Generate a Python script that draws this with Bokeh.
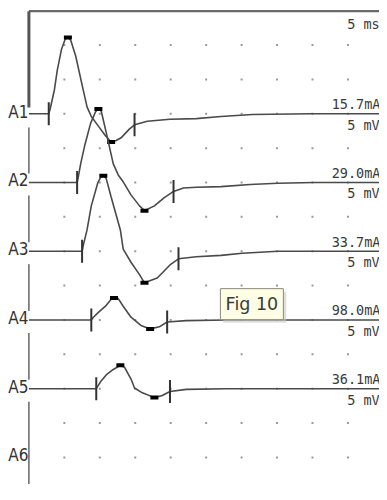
import numpy as np
from bokeh.plotting import figure
from bokeh.models import Range1d
from bokeh.core.properties import value
from bokeh.embed import file_html
from bokeh.resources import INLINE

# ---- data (time in ms, amplitude in mV relative to each trace baseline) ----
labels = ["A1", "A2", "A3", "A4", "A5", "A6"]
stim_mA = ["15.7mA", "29.0mA", "33.7mA", "98.0mA", "36.1mA"]
sens_label = "5 mV"
sweep_label = "5 ms"
note_label = "Fig 10"

A1_t = [0, 2.8, 3.0, 3.6, 4.0, 4.6, 5.1, 5.5, 5.9, 6.6, 7.5, 8.2, 8.8, 9.8, 10.8, 11.6, 12.3, 13.0, 14.2, 14.9, 16.7, 19.9, 23.6, 27.1, 31.5, 39.8, 49.5]
A1_v = [0, 0, 0.7, 3.5, 6.3, 9.4, 10.8, 11.1, 10.7, 8.4, 4.2, 1.0, -0.4, -1.8, -3.2, -4.1, -3.9, -3.5, -2.2, -1.6, -1.1, -0.8, -0.7, -0.4, -0.1, 0, 0]

A2_t = [0, 6.8, 7.0, 7.3, 7.9, 8.7, 9.4, 9.8, 10.2, 10.9, 11.9, 12.6, 13.3, 14.4, 15.6, 16.3, 17.7, 19.1, 20.4, 21.8, 23.6, 27.1, 31.2, 35.1, 40.2, 49.5]
A2_v = [0, 0, 1.0, 2.7, 5.5, 8.6, 10.3, 10.7, 10.4, 7.3, 2.7, 1.1, 0.1, -1.8, -3.4, -4.1, -3.4, -2.2, -1.3, -0.8, -0.7, -0.6, -0.3, -0.1, 0, 0]

A3_t = [0, 7.5, 7.7, 8.2, 8.8, 9.7, 10.1, 10.5, 10.9, 11.6, 12.9, 13.3, 14.4, 15.6, 16.3, 18.1, 19.9, 21.1, 23.6, 27.1, 30.1, 35.1, 49.5]
A3_v = [0, 0, 1.0, 3.1, 6.6, 9.9, 10.7, 11.0, 10.6, 7.9, 3.1, 0.3, -1.6, -3.4, -4.6, -3.9, -2.0, -1.1, -0.8, -0.6, -0.3, 0, 0]

A4_t = [0, 8.8, 9.1, 9.8, 10.8, 11.6, 12.0, 12.6, 13.3, 14.4, 15.8, 17.1, 18.4, 19.5, 22.2, 27.8, 49.5]
A4_v = [0, 0, 0.4, 1.1, 2.0, 3.0, 3.2, 3.1, 2.0, 0.4, -0.8, -1.3, -1.0, -0.3, -0.1, 0, 0]

A5_t = [0, 9.5, 10.1, 10.9, 11.9, 12.9, 13.5, 14.4, 14.9, 16.0, 17.7, 18.8, 19.9, 22.2, 27.8, 49.5]
A5_v = [0, 0, 1.0, 2.0, 2.8, 3.4, 3.1, 1.4, 0.1, -0.6, -1.3, -1.0, -0.4, -0.1, 0, 0]

traces_t = [A1_t, A2_t, A3_t, A4_t, A5_t]
traces_v = [A1_v, A2_v, A3_v, A4_v, A5_v]
onset_ms = [2.8, 6.8, 7.5, 8.8, 9.5]
end_ms = [14.9, 20.4, 21.1, 19.5, 19.9]

ms_per_div = 5
mv_per_div = 5
trace_step = 10  # mV between baselines (2 divisions)

X0, X1 = -4.006, 49.45
Y0, Y1 = -53.94, 16.48

# ---- figure ----
p = figure(width=379, height=484, x_range=Range1d(X0, X1),
           y_range=Range1d(Y0, Y1), output_backend="svg",
           toolbar_location=None, min_border=0)
p.axis.visible = False
p.grid.visible = False
p.outline_line_color = None
p.background_fill_color = "white"
p.border_fill_color = "white"

# grid dots
gx, gy = [], []
for k in range(1, 10):
    for j in range(-10, 3):
        gx.append(k * ms_per_div)
        gy.append(j * mv_per_div)
p.rect(gx, gy, width=2, height=2, width_units="screen", height_units="screen",
       fill_color="#9a9a9a", line_color=None)

# frame: top line and left axis line (with gaps at labels)
top_y = 14.93
p.segment(x0=[0], y0=[top_y], x1=[X1], y1=[top_y], line_color="#6a6a6a", line_width=2.2)
p.segment(x0=[0], y0=[top_y], x1=[0], y1=[0.9], line_color="#555555", line_width=3)
seg_y0, seg_y1 = [], []
prev = -2.0
for i in range(1, 5):
    b = -trace_step * i
    seg_y0.append(prev)
    seg_y1.append(b + 1.3)
    prev = b - 1.9
seg_y0.append(prev)
seg_y1.append(Y0)
p.segment(x0=[0] * len(seg_y0), y0=seg_y0, x1=[0] * len(seg_y0), y1=seg_y1,
          line_color="#666666", line_width=1.5)

# traces
for i, (t, v) in enumerate(zip(traces_t, traces_v)):
    off = -trace_step * i
    yv = np.array(v) + off
    p.line(t, yv, line_color="#4a4a4a", line_width=1.6)
    # onset and end ticks
    tk_x = [onset_ms[i], end_ms[i]]
    tk_y = [float(np.interp(x, t, yv)) for x in tk_x]
    p.rect(tk_x, tk_y, width=2, height=23, width_units="screen", height_units="screen",
           fill_color="#333333", line_color=None)
    # peak & trough markers
    imax = int(np.argmax(v))
    imin = int(np.argmin(v))
    p.rect([t[imax], t[imin]], [yv[imax], yv[imin]], width=8, height=4,
           width_units="screen", height_units="screen", fill_color="black", line_color=None)
    # stimulus / sensitivity text
    p.text([42.7], [off + 1.4], text=[stim_mA[i]], text_font=value("DejaVu Sans Mono"),
           text_font_size="13.5px", text_color="#3a3a3a", text_baseline="middle", text_align="left")
    p.text([44.9], [off - 1.6], text=[sens_label], text_font=value("DejaVu Sans Mono"),
           text_font_size="13.5px", text_color="#3a3a3a", text_baseline="middle", text_align="left")

# channel labels
lab_y = [-trace_step * i + 0.3 for i in range(len(labels))]
p.text([-0.05] * len(labels), lab_y, text=labels,
       text_font=value("'DejaVu Sans Condensed', 'Liberation Sans Narrow', 'DejaVu Sans Mono'"),
       text_font_size="17px", text_color="#333333", text_baseline="middle", text_align="right")

# sweep label
p.text([44.9], [13.1], text=[sweep_label], text_font=value("DejaVu Sans Mono"),
       text_font_size="13.5px", text_color="#3a3a3a", text_baseline="middle", text_align="left")

# note box
bx, by = 31.45, -27.7
p.rect([bx + 0.4], [by - 0.45], width=63, height=31, width_units="screen", height_units="screen",
       fill_color="#c8c8c8", fill_alpha=0.6, line_color=None)
p.rect([bx], [by], width=63, height=31, width_units="screen", height_units="screen",
       fill_color="#fefee4", line_color="#8a8a7a", line_width=1)
p.text([bx], [by], text=[note_label], text_font=value("DejaVu Sans"), text_font_size="17.5px",
       text_color="#3a3a3a", text_baseline="middle", text_align="center")

open("out.html", "w").write(file_html(p, INLINE))
